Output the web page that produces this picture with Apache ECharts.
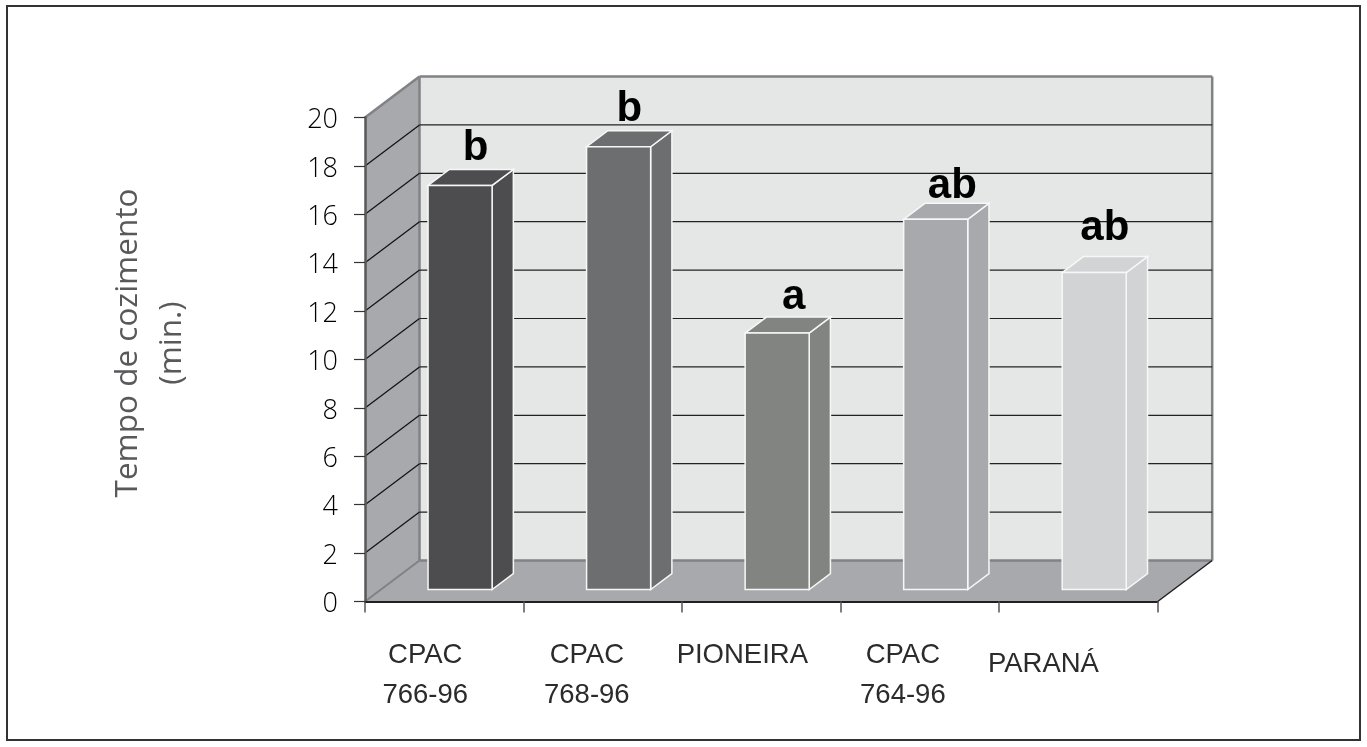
<!DOCTYPE html>
<html>
<head>
<meta charset="utf-8">
<title>Tempo de cozimento</title>
<script src="https://cdn.jsdelivr.net/npm/echarts@6/dist/echarts.min.js"></script>
<style>
    html, body { margin: 0; padding: 0; background: #fff; }
    #main { width: 1367px; height: 747px; }
</style>
</head>
<body>
<div id="main"></div>
<script>
    // dados
    var categories = ['CPAC\n766-96', 'CPAC\n768-96', 'PIONEIRA', 'CPAC\n764-96', 'PARANÁ'];
    var tempo = [16.7, 18.3, 10.6, 15.3, 13.1];
    var letras = ['b', 'b', 'a', 'ab', 'ab'];
    var yTicks = [2, 4, 6, 8, 10, 12, 14, 16, 18];

    var barColors = ['#4d4d4f', '#6d6e70', '#828482', '#a7a9ac', '#d1d3d4'];
    // deslocamento dos rotulos em relacao a categoria (px)
    var labelDy = [0, 0, 0, 0, 9];
    var labelDx = [19, 16, 19, 17, 35];
    // ajuste das letras sobre as barras
    var letraDx = [5, 0, 6, 6, 0];
    var letraDy = [-21, -21, -20, -17, -28];

    var font = '"Open Sans", sans-serif';
    var depth = [54.5, -41];    // profundidade do grafico
    var barNear = 0.29;         // onde a barra comeca na profundidade
    var barFar = 0.68;
    var barRatio = 0.404;

    var chart = echarts.init(document.getElementById('main'));

    function poly(points, fill, stroke, width) {
        return {
            type: 'polygon',
            shape: { points: points },
            style: { fill: fill, stroke: stroke || null, lineWidth: width || 0, lineJoin: 'miter' }
        };
    }
    function line(a, b, color, width) {
        return {
            type: 'line',
            shape: { x1: a[0], y1: a[1], x2: b[0], y2: b[1] },
            style: { stroke: color, lineWidth: width, fill: null }
        };
    }
    function back(p) {
        return [p[0] + depth[0], p[1] + depth[1]];
    }

    function renderWalls(params, api) {
        var n = categories.length;
        var lb = api.coord([0, 0]);
        lb[0] -= api.size([1, 0])[0] / 2;
        var lt = [lb[0], api.coord([0, 20])[1]];
        var rb = [lb[0] + api.size([1, 0])[0] * n, lb[1]];
        var rt = [rb[0], lt[1]];
        var grey = '#808285';
        return {
            type: 'group',
            children: [
                poly([back(lb), back(lt), back(rt), back(rb)], '#e5e6e6'),
                poly([lb, lt, back(lt), back(lb)], '#a7a9ac'),
                poly([lb, rb, back(rb), back(lb)], '#a7a9ac'),
                line(lt, back(lt), grey, 2.5),
                line(back(lt), back(rt), grey, 2.5),
                line(back(lt), back(lb), grey, 2.5),
                line(back(rt), back(rb), grey, 2.5),
                line(back(lb), back(rb), grey, 2.5),
                line(lb, back(lb), grey, 2),
                line(rb, back(rb), '#231f20', 1.5)
            ]
        };
    }

    function renderGrid(params, api) {
        var catW = api.size([1, 0])[0];
        var p = api.coord([0, api.value(0)]);
        p[0] -= catW / 2;
        var q = [p[0] + catW * categories.length, p[1]];
        return {
            type: 'group',
            children: [
                line(p, back(p), '#111', 1.2),
                line(back(p), back(q), '#222', 1.2)
            ]
        };
    }

    function renderBar(params, api) {
        var i = api.value(0);
        var catW = api.size([1, 0])[0];
        var w = catW * barRatio;
        var c = api.coord([i, 0]);
        var t = api.coord([i, api.value(1)]);
        var nx = depth[0] * barNear, ny = depth[1] * barNear;
        var fx = depth[0] * (barFar - barNear), fy = depth[1] * (barFar - barNear);
        var l = c[0] - w / 2 + nx, r = c[0] + w / 2 + nx;
        var yb = c[1] + ny, yt = t[1] + ny;
        var color = barColors[i];
        var edge = '#f7f7f7';
        return {
            type: 'group',
            children: [
                poly([[r, yb], [r, yt], [r + fx, yt + fy], [r + fx, yb + fy]], color, edge, 1.5),
                poly([[l, yt], [r, yt], [r + fx, yt + fy], [l + fx, yt + fy]], color, edge, 1.5),
                poly([[l, yb], [l, yt], [r, yt], [r, yb]], color, edge, 1.5)
            ]
        };
    }

    function renderLetra(params, api) {
        var i = api.value(0);
        var c = api.coord([i, api.value(1)]);
        return {
            type: 'text',
            x: c[0] + depth[0] * (barNear + barFar) / 2 + letraDx[i],
            y: c[1] + depth[1] * barFar + letraDy[i],
            style: {
                text: letras[i],
                fill: '#000',
                font: 'bold 42px "Liberation Sans", Arial, sans-serif',
                textAlign: 'center',
                textVerticalAlign: 'middle'
            }
        };
    }

    var option = {
        animation: false,
        backgroundColor: '#fff',
        grid: { left: 365, top: 117.5, width: 792.7, height: 484 },
        xAxis: {
            type: 'category',
            z: 6,
            data: categories.map(function (c, i) {
                return {
                    value: c,
                    textStyle: { padding: [labelDy[i], labelDx[i] * 2, 0, 0] }
                };
            }),
            axisLine: { onZero: false, lineStyle: { color: '#231f20', width: 2 } },
            axisTick: { show: true, length: 11, lineStyle: { color: '#555', width: 1.5 } },
            axisLabel: {
                interval: 0,
                margin: 34,
                color: '#2b2b2b',
                fontFamily: '"Liberation Sans", sans-serif',
                fontSize: 27.5,
                lineHeight: 40
            }
        },
        yAxis: {
            type: 'value',
            z: 6,
            min: 0,
            max: 20,
            interval: 2,
            splitLine: { show: false },
            axisLine: { show: true, lineStyle: { color: '#58595b', width: 2.5 } },
            axisTick: { show: true, length: 11, lineStyle: { color: '#333', width: 1.2 } },
            axisLabel: {
                margin: 27,
                formatter: '{t|{value}}',
                rich: {
                    t: {
                        color: '#000',
                        fontFamily: font,
                        fontWeight: 300,
                        fontSize: 27,
                        padding: [6, 0, 0, 0]
                    }
                }
            }
        },
        graphic: [
            {
                type: 'rect',
                z: -10,
                shape: { x: 7, y: 6, width: 1353, height: 734 },
                style: { fill: 'none', stroke: '#333', lineWidth: 2 }
            },
            {
                type: 'text',
                x: 150,
                y: 343,
                rotation: Math.PI / 2,
                style: {
                    text: 'Tempo de cozimento\n(min.)',
                    fill: '#58595b',
                    font: '31.5px ' + font,
                    lineHeight: 44,
                    textAlign: 'center',
                    textVerticalAlign: 'middle'
                }
            }
        ],
        series: [
            { type: 'custom', z: 1, data: [[0]], renderItem: renderWalls, silent: true },
            { type: 'custom', z: 2, data: yTicks.map(function (v) { return [v]; }), encode: { y: 0 }, renderItem: renderGrid, silent: true },
            { type: 'custom', z: 3, data: tempo.map(function (v, i) { return [i, v]; }), encode: { x: 0, y: 1 }, renderItem: renderBar },
            { type: 'custom', z: 4, data: tempo.map(function (v, i) { return [i, v]; }), encode: { x: 0, y: 1 }, renderItem: renderLetra }
        ]
    };

    chart.setOption(option);
</script>
</body>
</html>
